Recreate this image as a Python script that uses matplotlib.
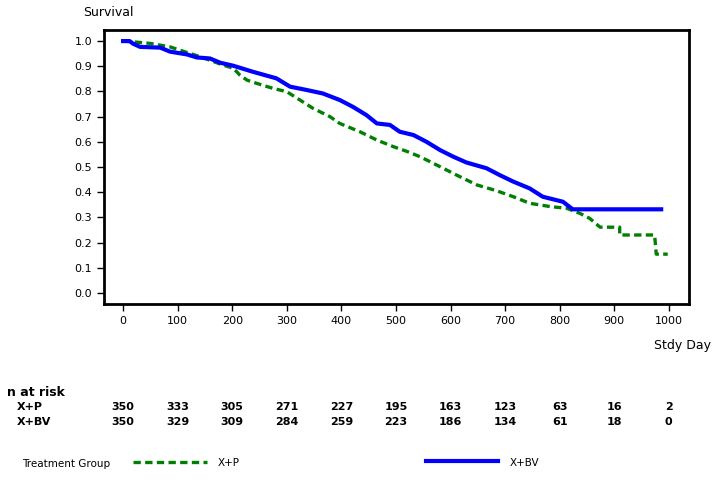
#!/usr/bin/env python3
"""
Kaplan-Meier style survival curves for two treatment groups, with n-at-risk table.
"""

import matplotlib
matplotlib.use('Agg')
import matplotlib.pyplot as plt
from matplotlib import transforms

# survival curve (day, survival); the many tiny steps
# of the original are traced as a line, the big late steps are kept as points
xp_days = [0, 18, 49, 86, 104, 141, 183, 202, 214, 227, 245, 275, 300, 324, 348,
           379, 397, 434, 465, 495, 520, 544, 581, 611, 648, 684, 715, 745, 782,
           813, 837, 855, 874, 910, 910, 974, 977, 998]
xp_surv = [1.0, 0.997, 0.991, 0.977, 0.964, 0.938, 0.905, 0.892, 0.865, 0.845,
           0.832, 0.812, 0.799, 0.766, 0.733, 0.700, 0.673, 0.640, 0.607, 0.581,
           0.562, 0.541, 0.501, 0.468, 0.429, 0.406, 0.382, 0.356, 0.343, 0.336,
           0.316, 0.296, 0.261, 0.261, 0.230, 0.230, 0.154, 0.154]

xbv_days = [0, 12, 18, 31, 68, 86, 117, 135, 159, 178, 202, 238, 281, 306, 336,
            366, 397, 421, 446, 465, 489, 507, 532, 556, 581, 605, 629, 666, 690,
            715, 745, 769, 806, 824, 986]
xbv_surv = [1.0, 1.0, 0.99, 0.977, 0.974, 0.958, 0.947, 0.935, 0.931, 0.914, 0.902,
            0.878, 0.852, 0.819, 0.806, 0.792, 0.766, 0.739, 0.706, 0.673, 0.667,
            0.640, 0.627, 0.600, 0.567, 0.541, 0.518, 0.495, 0.468, 0.442, 0.415,
            0.382, 0.362, 0.332, 0.332]

risk_days = [0, 100, 200, 300, 400, 500, 600, 700, 800, 900, 1000]
risk_xp = [350, 333, 305, 271, 227, 195, 163, 123, 63, 16, 2]
risk_xbv = [350, 329, 309, 284, 259, 223, 186, 134, 61, 18, 0]

W, H = 712, 480
GREEN = '#008000'
BLUE = '#0000ff'
DASH = (0, (2.2, 1.3))


def fx(px):
    return px / W


def fy(py):
    return 1 - py / H


def main():
    plt.rcParams['font.family'] = ['DejaVu Sans']
    fig = plt.figure(figsize=(7.12, 4.8), dpi=100)
    ax = fig.add_axes([fx(104), fy(304), fx(689) - fx(104), fy(30) - fy(304)])

    ax.plot(xp_days, xp_surv, color=GREEN, linewidth=2.4, linestyle=DASH)
    ax.plot(xbv_days, xbv_surv, color=BLUE, linewidth=3.0)

    ax.set_xlim(-35, 1037)
    ax.set_ylim(-0.044, 1.044)
    ax.set_xticks(risk_days)
    ax.set_yticks([i / 10 for i in range(11)])
    ax.set_yticklabels([f'{i / 10:.1f}' for i in range(11)])
    ax.tick_params(direction='out', length=5, width=1, labelsize=8, colors='black')
    for s in ax.spines.values():
        s.set_linewidth(2)

    fig.text(fx(83), fy(12), 'Survival', fontsize=9, va='center', ha='left')
    fig.text(fx(711), fy(345), 'Stdy Day', fontsize=9, va='center', ha='right')

    # n at risk table
    fig.text(fx(7), fy(392), 'n at risk', fontsize=9, fontweight='bold', va='center')
    fig.text(fx(17), fy(407), 'X+P', fontsize=8, fontweight='bold', va='center')
    fig.text(fx(17), fy(422), 'X+BV', fontsize=8, fontweight='bold', va='center')
    trans = transforms.blended_transform_factory(ax.transData, fig.transFigure)
    for d, a, b in zip(risk_days, risk_xp, risk_xbv):
        fig.text(d, fy(407), str(a), transform=trans, fontsize=8,
                 fontweight='bold', ha='center', va='center')
        fig.text(d, fy(422), str(b), transform=trans, fontsize=8,
                 fontweight='bold', ha='center', va='center')

    # legend
    fig.text(fx(22), fy(464), 'Treatment Group', fontsize=7.5, va='center')
    fig.add_artist(plt.Line2D([fx(133), fx(207)], [fy(462), fy(462)],
                              color=GREEN, linewidth=2.4, linestyle=DASH))
    fig.text(fx(218), fy(463), 'X+P', fontsize=7.5, va='center')
    fig.add_artist(plt.Line2D([fx(426), fx(498)], [fy(461), fy(461)],
                              color=BLUE, linewidth=3.0))
    fig.text(fx(510), fy(463), 'X+BV', fontsize=7.5, va='center')

    fig.savefig('out.png', dpi=100)
    plt.close(fig)


if __name__ == '__main__':
    main()
